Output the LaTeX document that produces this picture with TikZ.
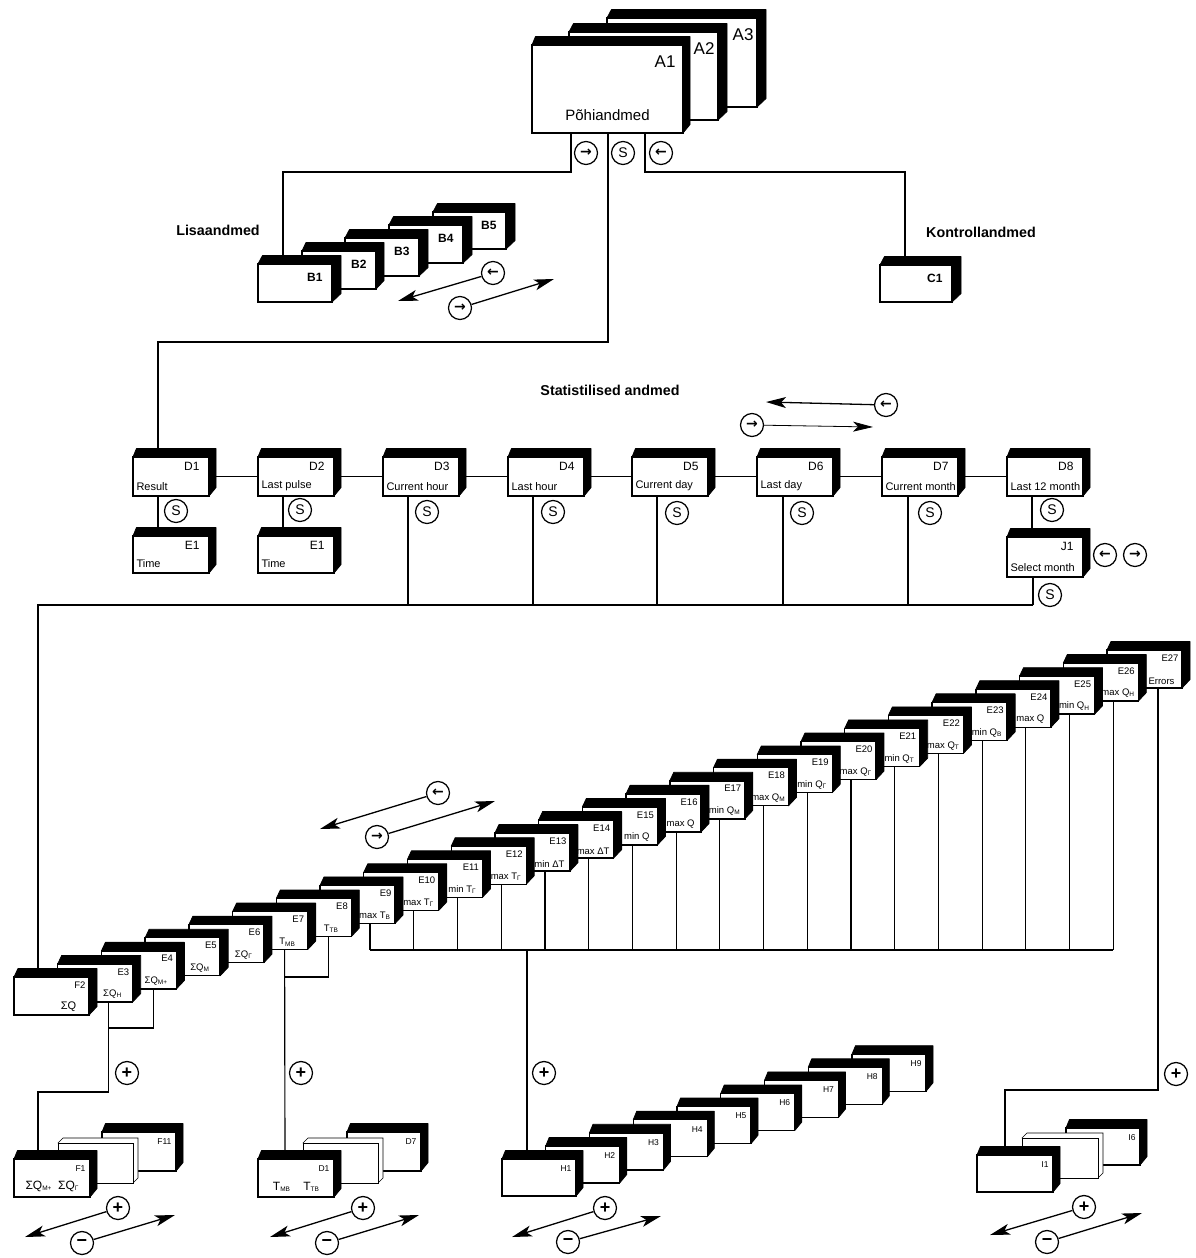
\documentclass[tikz,border=0pt]{standalone}
\usepackage{fontspec}
\setmainfont{Liberation Sans}
\newfontfamily\symf{DejaVu Sans}
\usetikzlibrary{arrows.meta}
\newcommand\fs[1]{\fontsize{#1}{#1}\selectfont}
\newcommand\lowsub[1]{\raisebox{-1.2pt}{\fs{6.5}#1}}
\newcommand\sy[1]{\symf\bfseries #1}
\tikzset{
  cardface/.style={draw=black,line width=1.4pt,fill=white,inner sep=0pt,outer sep=0pt,anchor=north west},
  cardback/.style={fill=black,draw=black,line width=.8pt,line join=round},
  ghostback/.style={fill=white,draw=black,line width=.6pt},
  ghostface/.style={draw=black,line width=.9pt,fill=white,inner sep=0pt,outer sep=0pt,anchor=north west},
  link/.style={draw=black,line width=1.15pt},
  linkb/.style={draw=black,line width=1.7pt},
  btn/.style={draw=black,line width=1.25pt,circle,fill=white,minimum size=23pt,inner sep=0pt,font=\fs{14}},
  bigarrow/.style={draw=black,line width=1.3pt,-{Stealth[length=20pt,width=11pt,inset=5pt]}},
  thinarrow/.style={draw=black,line width=.8pt,-{Stealth[length=20pt,width=10pt,inset=5pt]}},
  idA/.style={anchor=north east,xshift=-4pt,yshift=-7pt,font=\fs{17}},
  idAb/.style={anchor=north east,xshift=0pt,yshift=-7pt,font=\fs{17}},
  idB/.style={anchor=north east,xshift=-6pt,yshift=-6pt,font=\bfseries\fs{12}},
  idD/.style={anchor=north east,xshift=-6pt,yshift=-2pt,font=\fs{12}},
  idE/.style={anchor=north east,xshift=0pt,yshift=-1pt,font=\fs{9.5}},
  idH/.style={anchor=north east,xshift=-1pt,yshift=-3pt,font=\fs{8.5}},
  capD/.style={anchor=south west,xshift=0pt,yshift=2pt,font=\fs{11}},
  capE/.style={anchor=south,xshift=17pt,yshift=0pt,font=\fs{9.5}},
  capF/.style={anchor=south,yshift=2pt,font=\fs{12}},
  heading/.style={font=\bfseries\fs{14.3}},
}
% [id style]{name}{x}{y}{h}{w}{depth}{id}
\newcommand\card[8][idE]{%
  \path[cardback] (#3,#4) -- (#3+#7*.5,#4-8.5) -- (#3+#6+#7,#4-8.5) -- (#3+#6+#7,#4+#5-8.5) -- (#3+#6,#4+#5) -- cycle;
  \node[cardface,minimum width=#6pt,minimum height=#5pt] (#2) at (#3,#4) {};
  \node[#1] (#2id) at (#2.north east) {#8};
}
\newcommand\ghost[5]{%
  \path[ghostback] (#2,#3) -- (#2+5,#3-5) -- (#2+#5+5,#3-5) -- (#2+#5+5,#3+#4-5) -- (#2+#5,#3+#4) -- cycle;
  \node[ghostface,minimum width=#5pt,minimum height=#4pt] (#1) at (#2,#3) {};
}
\newcommand\capD[2]{\node[capD] (#1cap) at (#1.south west) {#2};}
\newcommand\capE[2]{\node[capE] (#1cap) at (#1.south) {#2};}
\newcommand\btnat[4]{\node[btn] (#1) at (#2,#3) {#4};}
\begin{document}
\begin{tikzpicture}[x=1pt,y=-1pt]
\useasboundingbox (0,0) rectangle (1196,1258);
\fill[white] (0,0) rectangle (1196,1258);

% --- A stack
\card[idAb]{A3}{607}{18}{89}{150}{9}{A3}
\card[idAb]{A2}{569}{32}{88}{149}{9}{A2}
\card[idA]{A1}{532}{45}{88}{151}{7}{A1}
\node[font=\fs{15},anchor=south] (A1cap) at ([yshift=9pt]A1.south) {Põhiandmed};

% --- B stack and C1
\card[idB]{B5}{433}{212}{37}{73}{9}{B5}
\card[idB]{B4}{389}{225}{38}{74}{9}{B4}
\card[idB]{B3}{345}{238}{38}{74}{9}{B3}
\card[idB]{B2}{302}{251}{38}{74}{8}{B2}
\card[idB]{B1}{258}{264}{38}{74}{9}{B1}
\card[idB]{C1}{880}{265}{37}{72}{9}{C1}
\node[heading] (lisa) at (218,230) {Lisaandmed};
\node[heading] (kontroll) at (981,232) {Kontrollandmed};
\node[heading] (stat) at (610,390) {Statistilised andmed};

\coordinate (abc) at (283,172);
\coordinate (acc) at (905,172);
\coordinate (adc) at (158,342);
\draw[link] ([xshift=39pt]A1.south west) |- (abc) -- ([xshift=25pt]B1.north west);
\draw[link] ([xshift=113pt]A1.south west) |- (acc) -- ([xshift=25pt]C1.north west);

\btnat{bl}{586}{153}{\sy{→}}
\btnat{bs}{623}{153}{S}
\btnat{br}{661}{153}{\sy{←}}

% B arrows
\btnat{bprev}{493}{273}{\sy{←}}
\btnat{bnext}{460}{308}{\sy{→}}
\coordinate (bprevt) at (398,301);
\coordinate (bnextt) at (554,279);
\draw[bigarrow] (bprev) -- (bprevt);
\draw[bigarrow] (bnext) -- (bnextt);

% D arrows
\btnat{dprev}{886}{405}{\sy{←}}
\btnat{dnext}{752}{425}{\sy{→}}
\coordinate (dprevt) at (766,402);
\coordinate (dnextt) at (873,427);
\draw[bigarrow] (dprev) -- (dprevt);
\draw[thinarrow] (dnext) -- (dnextt);

% --- D row
\foreach \n/\xx/\cc in {D1/133/Result,D2/258/Last pulse,D3/383/Current hour,D4/508/Last hour,D5/632/Current day,D6/757/Last day,D7/882/Current month,D8/1007/Last 12 month}{
  \card[idD]{\n}{\xx}{457}{39}{76}{7}{\n}
  \capD{\n}{\cc}
}
\card[idD]{E1a}{133}{536}{37}{76}{7}{E1}
\capD{E1a}{Time}
\card[idD]{E1b}{258}{536}{37}{76}{7}{E1}
\capD{E1b}{Time}
\card[idD]{J1}{1007}{537}{40}{76}{7}{J1}
\capD{J1}{Select month}

\foreach \a/\b in {D1/D2,D2/D3,D3/D4,D4/D5,D5/D6,D6/D7,D7/D8}{
  \draw[link] (\a) -- (\b);
}
\draw[link] ([xshift=25pt]D1.south west) -- ([xshift=25pt]E1a.north west);
\draw[link] ([xshift=25pt]D2.south west) -- ([xshift=25pt]E1b.north west);
\draw[link] ([xshift=25pt]D8.south west) -- ([xshift=25pt]J1.north west);
\btnat{sa}{176}{511}{S}
\btnat{sb}{300}{510}{S}
\btnat{sc}{427}{512}{S}
\btnat{sd}{553}{512}{S}
\btnat{se}{677}{513}{S}
\btnat{sf}{802}{513}{S}
\btnat{sg}{930}{513}{S}
\btnat{sh}{1052}{510}{S}
\btnat{sj}{1050}{595}{S}
\btnat{jl}{1105}{555}{\sy{←}}
\btnat{jr}{1135}{555}{\sy{→}}

% --- E row, right to left
\foreach \i/\n/\cc in {
 25/E27/{Errors},
 24/E26/{max Q\lowsub{H}},
 23/E25/{min Q\lowsub{H}},
 22/E24/{max Q},
 21/E23/{min Q\lowsub{B}},
 20/E22/{max Q\lowsub{T}},
 19/E21/{min Q\lowsub{T}},
 18/E20/{max Q\lowsub{Г}},
 17/E19/{min Q\lowsub{Г}},
 16/E18/{max Q\lowsub{M}},
 15/E17/{min Q\lowsub{M}},
 14/E16/{max Q},
 13/E15/{min Q},
 12/E14/{max ΔT},
 11/E13/{min ΔT},
 10/E12/{max T\lowsub{Г}},
 9/E11/{min T\lowsub{Г}},
 8/E10/{max T\lowsub{Г}},
 7/E9/{max T\lowsub{B}},
 6/E8/{T\lowsub{TB}},
 5/E7/{T\lowsub{MB}},
 4/E6/{ΣQ\lowsub{Г}},
 3/E5/{ΣQ\lowsub{M}},
 2/E4/{ΣQ\lowsub{M+}},
 1/E3/{ΣQ\lowsub{H}},
 0/F2/{\fs{11}ΣQ}}{
  \pgfmathsetmacro\xp{14+43.72*\i}
  \pgfmathsetmacro\yp{977-13.08*\i}
  \card{\n}{\xp}{\yp}{38}{75}{8}{\n}
  \capE{\n}{\cc}
}
% common bus
\coordinate (busY) at (0,950);
\foreach \n in {E9,E10,E11,E12,E13,E14,E15,E16,E17,E18,E19,E20,E21,E22,E23,E24,E25,E26}{
  \coordinate (\n-b) at ([xshift=50pt]\n.south west);
  \coordinate (\n-j) at (\n-b |- busY);
  \draw[link] (\n-b) -- (\n-j);
}
\draw[link] (E9-j) -- (E26-j);

% statistics bus
\coordinate (busS) at (0,605);
\foreach \n/\s in {D3/25,D4/25,D5/25,D6/26,D7/26,J1/26}{
  \coordinate (\n-b) at ([xshift=\s pt]\n.south west);
  \coordinate (\n-j) at (\n-b |- busS);
}
\draw[linkb] (D3-b) -- (D3-j);
\draw[link] (D4-b) -- (D4-j);
\draw[link] (D5-b) -- (D5-j);
\draw[link] (D6-b) -- (D6-j);
\draw[linkb] (D7-b) -- (D7-j);
\draw[link] (J1-b) -- (J1-j);
\coordinate (f2t) at ([xshift=24pt]F2.north west);
\draw[link] (J1-j) -| (f2t);
\draw[link] ([xshift=76pt]A1.south west) |- (adc) -- ([xshift=25pt]D1.north west);

% mid arrows
\btnat{eprev}{438}{793}{\sy{←}}
\btnat{enext}{377}{837}{\sy{→}}
\coordinate (eprevt) at (320,829);
\coordinate (enextt) at (495,801);
\draw[bigarrow] (eprev) -- (eprevt);
\draw[bigarrow] (enext) -- (enextt);

% --- bottom groups
\card[idH]{F11}{102}{1132}{39}{74}{7}{F11}
\ghost{Fm}{58}{1143}{40}{75}
\card[idH]{F1}{14}{1159}{38}{76}{7}{F1}
\card[idH]{G7}{347}{1132}{39}{74}{7}{D7}
\ghost{Gm}{303}{1143}{40}{75}
\card[idH]{G1}{258}{1159}{38}{76}{7}{D1}
\node[capF] (G1cap) at (G1.south) {T\lowsub{MB}\;\;\; T\lowsub{TB}};
\node[capF] (F1cap) at (F1.south) {ΣQ\lowsub{M+}\;\;ΣQ\lowsub{Г}};

\foreach \i/\n in {8/H9,7/H8,6/H7,5/H6,4/H5,3/H4,2/H3,1/H2,0/H1}{
  \pgfmathsetmacro\xp{502+43.75*\i}
  \pgfmathsetmacro\yp{1159-13.1*\i}
  \card[idH]{\n}{\xp}{\yp}{37}{74}{7}{\n}
}
\card[idH]{I6}{1066}{1128}{37}{74}{7}{I6}
\ghost{Im}{1022}{1138}{40}{76}
\card[idH]{I1}{977}{1155}{37}{76}{7}{I1}

% links to the bottom groups
\coordinate (lk) at (38,1092);
\coordinate (e3b) at ([xshift=51pt]E3.south west);
\coordinate (lk4) at (e3b |- 0,1028);
\coordinate (e7b) at ([xshift=52pt]E7.south west);
\coordinate (lk8) at (e7b |- 0,977);
\draw[link] (e3b) |- (lk) -- ([xshift=24pt]F1.north west);
\draw[link] ([xshift=52pt]E4.south west) |- (lk4);
\draw[link] (e7b) -- ([xshift=27pt]G1.north west);
\draw[link] ([xshift=52pt]E8.south west) |- (lk8);
\coordinate (bm) at (527,950);
\draw[link] (bm) -- ([xshift=25pt]H1.north west);
\coordinate (lk27) at (1005,1090);
\draw[link] ([xshift=51pt]E27.south west) |- (lk27) -- ([xshift=28pt]I1.north west);

\btnat{pa}{127}{1073}{\fs{18}\bfseries +}
\btnat{pb}{301}{1073}{\fs{18}\bfseries +}
\btnat{pc}{544}{1073}{\fs{18}\bfseries +}
\btnat{pd}{1176}{1074}{\fs{18}\bfseries +}

% +/- arrow pairs
\foreach \k/\px/\py/\mx/\my/\tlx/\tly/\trx/\try in {
  f/118/1208/82/1243/25/1237/175/1215,
  g/363/1208/327/1243/270/1237/419/1215,
  h/605/1208/568/1242/512/1237/661/1216,
  i/1084/1207/1047/1242/990/1235/1142/1213}{
  \node[btn,font=\fs{18}\bfseries] (\k-p) at (\px,\py) {+};
  \node[btn,font=\fs{18}\bfseries] (\k-m) at (\mx,\my) {−};
  \coordinate (\k-l) at (\tlx,\tly);
  \coordinate (\k-r) at (\trx,\try);
  \draw[bigarrow] (\k-p) -- (\k-l);
  \draw[bigarrow] (\k-m) -- (\k-r);
}
\end{tikzpicture}
\end{document}
